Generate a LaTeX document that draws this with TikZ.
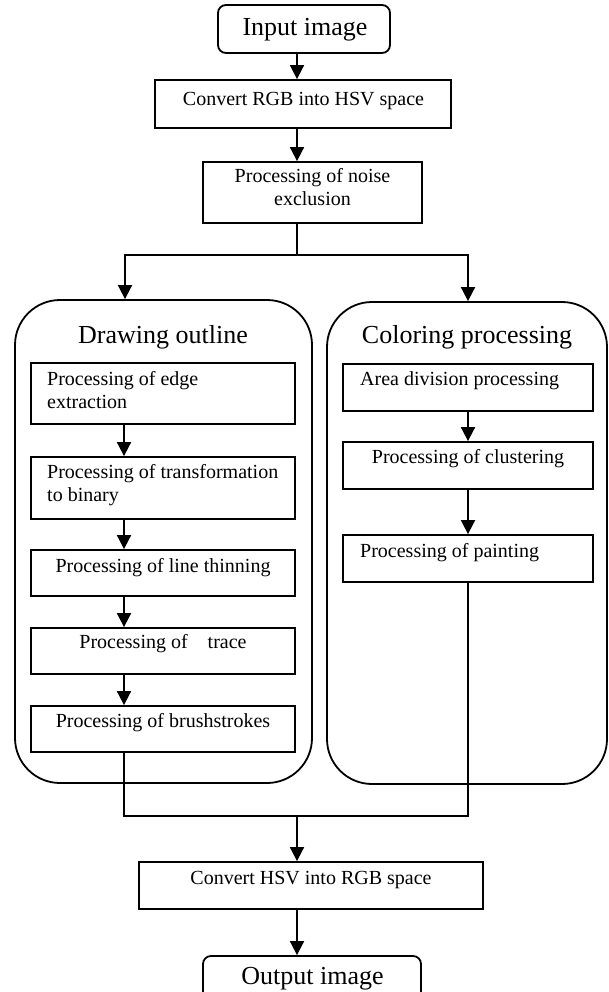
\documentclass[tikz,border=0pt]{standalone}
\usepackage{fontspec}
\setmainfont{Liberation Serif}
\usetikzlibrary{arrows.meta}
\begin{document}
\begin{tikzpicture}[x=1pt,y=-1pt,
  box/.style={draw, line width=1.8pt, rectangle, inner sep=0pt, minimum width=#1},
  term/.style={box=#1, rounded corners=8pt, minimum height=48pt},
  group/.style={draw, line width=1.8pt, rectangle, inner sep=0pt, rounded corners=45pt},
  txt/.style={inner sep=0pt, font=\fontsize{20}{23}\selectfont},
  ttl/.style={inner sep=0pt, font=\fontsize{26}{30}\selectfont},
  arr/.style={line width=1.8pt, -{Triangle[width=14pt,length=14pt]}},
  ln/.style={line width=1.8pt}]
\clip (0,0) rectangle (608,992);
\fill[white] (0,0) rectangle (608,992);
% reference x positions of connectors
\coordinate (ax) at (297,0);
\coordinate (lx) at (124,0);
\coordinate (rx) at (468,0);
% top chain
\node[term=172pt] (in) at (304,29) {};
\node[ttl, anchor=base] (tin) at (305,36) {Input image};
\node[box=296pt, minimum height=48pt] (rgb) at (303,104) {};
\node[txt, anchor=base] (trgb) at (303.5,106) {Convert RGB into HSV space};
\node[box=219pt, minimum height=61pt] (noise) at (312.5,192.5) {};
\node[txt, anchor=base] (tnoise) at (312.5,183) {\parbox[t]{210pt}{\centering Processing of noise\\exclusion}};
% groups
\node[group, minimum width=297pt, minimum height=483pt] (gl) at (163.5,541.5) {};
\node[ttl, anchor=base] (tgl) at (163,343) {Drawing outline};
\node[group, minimum width=280pt, minimum height=482pt] (gr) at (467,543) {};
\node[ttl, anchor=base] (tgr) at (467,343) {Coloring processing};
% left chain
\node[box=264pt, minimum height=61pt] (l1) at (163,393.5) {};
\node[txt, anchor=base west] (tl1) at (47,385) {\parbox[t]{245pt}{\raggedright Processing of edge\\extraction}};
\node[box=264pt, minimum height=62pt] (l2) at (163,488) {};
\node[txt, anchor=base west] (tl2) at (47,478) {\parbox[t]{245pt}{\raggedright Processing of transformation\\to binary}};
\node[box=264pt, minimum height=46pt] (l3) at (163,573) {};
\node[txt, anchor=base] (tl3) at (163,572) {Processing of line thinning};
\node[box=264pt, minimum height=46pt] (l4) at (163,651) {};
\node[txt, anchor=base] (tl4) at (163,648) {Processing of~~~~trace};
\node[box=264pt, minimum height=46pt] (l5) at (163,729) {};
\node[txt, anchor=base] (tl5) at (163,727) {Processing of brushstrokes};
% right chain
\node[box=250pt, minimum height=47pt] (ra) at (468,387.5) {};
\node[txt, anchor=base west] (tra) at (360,385) {Area division processing};
\node[box=250pt, minimum height=47pt] (rb) at (468,465.5) {};
\node[txt, anchor=base] (trb) at (468,463) {Processing of clustering};
\node[box=250pt, minimum height=47pt] (rc) at (468,558.5) {};
\node[txt, anchor=base west] (trc) at (360,557) {Processing of painting};
% bottom chain
\node[box=344pt, minimum height=47pt] (hsv) at (311,885.5) {};
\node[txt, anchor=base] (thsv) at (311,884) {Convert HSV into RGB space};
\node[term=218pt] (out) at (312,980) {};
\node[ttl, anchor=base] (tout) at (312.5,984) {Output image};
% connectors
\coordinate (j) at (297,255);
\coordinate (jb) at (297,816);
\draw[arr] (in.south -| ax) -- (rgb.north -| ax);
\draw[arr] (rgb.south -| ax) -- (noise.north -| ax);
\draw[ln] (noise.south -| ax) -- (j);
\draw[arr] (j) -| (gl.north -| 125,0);
\draw[arr] (j) -| (gr.north -| rx);
\draw[arr] (l1.south -| lx) -- (l2.north -| lx);
\draw[arr] (l2.south -| lx) -- (l3.north -| lx);
\draw[arr] (l3.south -| lx) -- (l4.north -| lx);
\draw[arr] (l4.south -| lx) -- (l5.north -| lx);
\draw[arr] (ra.south -| rx) -- (rb.north -| rx);
\draw[arr] (rb.south -| rx) -- (rc.north -| rx);
\draw[ln] (l5.south -| lx) |- (jb);
\draw[ln] (rc.south -| rx) |- (jb);
\draw[arr] (jb) -- (hsv.north -| ax);
\draw[arr] (hsv.south -| ax) -- (out.north -| ax);
\end{tikzpicture}
\end{document}
